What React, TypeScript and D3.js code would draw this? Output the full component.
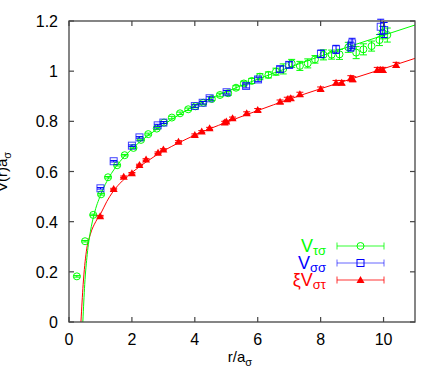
import React from "react";
import * as d3 from "d3";

// ---- data ----
const xTicks = [0, 2, 4, 6, 8, 10];
const yTicks = [0, 0.2, 0.4, 0.6, 0.8, 1, 1.2];
const yTickLabels = ["0", "0.2", "0.4", "0.6", "0.8", "1", "1.2"];

// V_tau_sigma (green circles): r, V, error
const greenR = [0.25, 0.51, 0.77, 1.02, 1.24, 1.53, 1.77, 2.05, 2.29, 2.52, 2.79, 3.02, 3.27, 3.53, 3.79, 4.02, 4.27, 4.54, 4.8, 5.06, 5.31, 5.56, 5.81, 6.07, 6.34, 6.58, 6.81, 7.08, 7.34, 7.59, 7.82, 8.09, 8.35, 8.6, 8.88, 9.13, 9.36, 9.62, 9.87, 9.97, 10.12];
const greenV = [0.182, 0.322, 0.427, 0.509, 0.577, 0.625, 0.665, 0.694, 0.726, 0.749, 0.771, 0.795, 0.815, 0.832, 0.848, 0.86, 0.874, 0.889, 0.905, 0.912, 0.934, 0.951, 0.961, 0.978, 0.985, 0.998, 1.009, 1.031, 1.021, 1.031, 1.047, 1.065, 1.066, 1.067, 1.095, 1.074, 1.087, 1.1, 1.124, 1.154, 1.144];
const greenE = [0.003, 0.003, 0.003, 0.003, 0.003, 0.003, 0.003, 0.003, 0.003, 0.004, 0.004, 0.004, 0.005, 0.005, 0.005, 0.006, 0.006, 0.006, 0.007, 0.008, 0.008, 0.009, 0.01, 0.012, 0.012, 0.014, 0.02, 0.016, 0.018, 0.018, 0.015, 0.02, 0.018, 0.02, 0.02, 0.024, 0.022, 0.02, 0.022, 0.025, 0.028];

// V_sigma_sigma (blue squares)
const blueR = [1.0, 1.42, 2.0, 2.24, 2.82, 3.0, 4.0, 4.25, 4.47, 5.01, 5.63, 6.01, 6.71, 7.0, 8.01, 8.49, 8.96, 9.0, 9.91, 10.02];
const blueV = [0.533, 0.641, 0.703, 0.736, 0.784, 0.795, 0.861, 0.874, 0.892, 0.916, 0.941, 0.967, 1.008, 1.025, 1.069, 1.087, 1.098, 1.111, 1.177, 1.164];
const blueE = [0.003, 0.003, 0.003, 0.003, 0.004, 0.004, 0.005, 0.005, 0.006, 0.007, 0.008, 0.009, 0.012, 0.012, 0.015, 0.016, 0.018, 0.02, 0.03, 0.03];

// xi V_sigma_tau (red triangles)
const redR = [0.99, 1.42, 1.74, 2.0, 2.24, 2.45, 2.83, 3.0, 3.48, 4.0, 4.22, 4.47, 4.95, 5.0, 5.2, 5.65, 6.0, 6.71, 6.94, 7.05, 7.34, 8.0, 8.49, 8.67, 8.96, 9.02, 9.8, 9.9, 9.98, 10.4];
const redV = [0.422, 0.53, 0.579, 0.593, 0.626, 0.648, 0.675, 0.688, 0.719, 0.746, 0.759, 0.772, 0.795, 0.799, 0.812, 0.832, 0.845, 0.878, 0.888, 0.892, 0.908, 0.929, 0.954, 0.954, 0.972, 0.968, 1.005, 1.005, 1.005, 1.025];
const redE = [0.003, 0.003, 0.003, 0.003, 0.003, 0.003, 0.003, 0.003, 0.004, 0.004, 0.004, 0.004, 0.005, 0.005, 0.005, 0.006, 0.006, 0.007, 0.008, 0.008, 0.008, 0.008, 0.009, 0.009, 0.01, 0.01, 0.01, 0.01, 0.01, 0.01];

// fitted curves
const greenFitR = [0.44, 0.5, 0.58, 0.68, 0.8, 1.0, 1.2, 1.5, 2.0, 2.5, 3.0, 3.5, 4.0, 5.0, 6.0, 7.0, 8.0, 9.0, 10.0, 11.0];
const greenFitV = [0.0, 0.15, 0.27, 0.36, 0.43, 0.505, 0.56, 0.62, 0.69, 0.742, 0.786, 0.826, 0.862, 0.918, 0.968, 1.015, 1.06, 1.102, 1.143, 1.184];
const redFitR = [0.38, 0.45, 0.55, 0.68, 0.85, 1.0, 1.2, 1.4, 1.7, 2.0, 2.5, 3.0, 3.5, 4.0, 5.0, 6.0, 7.0, 8.0, 9.0, 10.0, 11.0];
const redFitV = [0.0, 0.15, 0.28, 0.35, 0.4, 0.43, 0.48, 0.52, 0.563, 0.596, 0.642, 0.682, 0.715, 0.745, 0.796, 0.843, 0.888, 0.93, 0.97, 1.01, 1.051];

const GREEN = "#00ff00";
const BLUE = "#0000ff";
const RED = "#ff0000";
const FONT = "'Liberation Sans', Arial, Helvetica, sans-serif";

const W = 436, H = 374;
const L = 69, R = 415, T = 21, B = 322;

export default function App() {
  const x = d3.scaleLinear().domain([0, 11]).range([L, R]);
  const y = d3.scaleLinear().domain([0, 1.2]).range([B, T]);
  const line = d3.line<[number, number]>().x(d => x(d[0])).y(d => y(d[1])).curve(d3.curveMonotoneX);
  const greenFit = line(greenFitR.map((r, i) => [r, greenFitV[i]]) as [number, number][]) || "";
  const redFit = line(redFitR.map((r, i) => [r, redFitV[i]]) as [number, number][]) || "";
  const cap = 3.5;
  const ms = 3.5;

  const errBar = (cx: number, v: number, e: number, color: string, k: string) => {
    const y1 = y(v - e), y2 = y(v + e);
    return (
      <g key={k} stroke={color} strokeWidth={1} fill="none">
        <line x1={cx} x2={cx} y1={y1} y2={y2} />
        <line x1={cx - cap} x2={cx + cap} y1={y1} y2={y1} />
        <line x1={cx - cap} x2={cx + cap} y1={y2} y2={y2} />
      </g>
    );
  };
  const triPath = (cx: number, cy: number) =>
    `M${cx},${cy - ms - 0.5}L${cx + ms + 0.5},${cy + ms - 0.5}L${cx - ms - 0.5},${cy + ms - 0.5}Z`;

  const legendRows = [
    { pre: "", sub: "τσ", color: GREEN, yb: 252, kind: "circle" },
    { pre: "", sub: "σσ", color: BLUE, yb: 269, kind: "square" },
    { pre: "ξ", sub: "στ", color: RED, yb: 286, kind: "tri" },
  ];

  return (
    <svg width={W} height={H} style={{ position: "absolute", left: 0, top: 0 }} fontFamily={FONT}>
      <rect x={0} y={0} width={W} height={H} fill="#fff" />
      <defs>
        <clipPath id="plotclip">
          <rect x={L} y={T} width={R - L} height={B - T} />
        </clipPath>
      </defs>

      {/* fit curves */}
      <g clipPath="url(#plotclip)" fill="none" strokeWidth={1}>
        <path d={redFit} stroke={RED} />
        <path d={greenFit} stroke={GREEN} />
      </g>

      {/* green circles */}
      <g>
        {greenR.map((r, i) => errBar(x(r), greenV[i], greenE[i], GREEN, "ge" + i))}
        {greenR.map((r, i) => (
          <circle key={"g" + i} cx={x(r)} cy={y(greenV[i])} r={ms} fill="none" stroke={GREEN} strokeWidth={1} />
        ))}
      </g>
      {/* blue squares */}
      <g>
        {blueR.map((r, i) => errBar(x(r), blueV[i], blueE[i], BLUE, "be" + i))}
        {blueR.map((r, i) => (
          <rect key={"b" + i} x={x(r) - ms} y={y(blueV[i]) - ms} width={2 * ms} height={2 * ms} fill="none" stroke={BLUE} strokeOpacity={0.75} strokeWidth={1} />
        ))}
      </g>
      {/* red triangles */}
      <g>
        {redR.map((r, i) => errBar(x(r), redV[i], redE[i], RED, "re" + i))}
        {redR.map((r, i) => (
          <path key={"r" + i} d={triPath(x(r), y(redV[i]))} fill={RED} />
        ))}
      </g>

      {/* frame */}
      <rect x={L} y={T} width={R - L} height={B - T} fill="none" stroke="#444" strokeWidth={1.3} />
      {/* ticks */}
      <g stroke="#444" strokeWidth={1.2}>
        {xTicks.map(t => (
          <g key={"xt" + t}>
            <line x1={x(t)} x2={x(t)} y1={B} y2={B - 5} />
            <line x1={x(t)} x2={x(t)} y1={T} y2={T + 5} />
          </g>
        ))}
        {yTicks.map(t => (
          <g key={"yt" + t}>
            <line x1={L} x2={L + 5} y1={y(t)} y2={y(t)} />
            <line x1={R} x2={R - 5} y1={y(t)} y2={y(t)} />
          </g>
        ))}
      </g>
      {/* tick labels */}
      <g fontSize={16} fill="#000">
        {xTicks.map(t => (
          <text key={"xl" + t} x={x(t)} y={345} textAnchor="middle">{String(t)}</text>
        ))}
        {yTicks.map((t, i) => (
          <text key={"yl" + t} x={58} y={y(t) + 6} textAnchor="end">{yTickLabels[i]}</text>
        ))}
      </g>

      {/* axis labels */}
      <text x={240} y={362} textAnchor="middle" fontSize={15} fill="#000">
        r/a<tspan fontSize={11} dy={4}>σ</tspan>
      </text>
      <text transform={`translate(7,172) rotate(-90)`} textAnchor="middle" fontSize={15} fill="#000">
        V(r)a<tspan fontSize={11} dy={4}>σ</tspan>
      </text>

      {/* legend */}
      {legendRows.map((row, i) => {
        const ly = row.yb - 6;
        const x1 = 337, x2 = 384, xm = 360.5;
        return (
          <g key={"lg" + i}>
            <text x={326} y={row.yb} textAnchor="end" fill={row.color} fontSize={18}>
              {row.pre}V<tspan fontSize={13} dy={3}>{row.sub}</tspan>
            </text>
            <g stroke={row.color} strokeWidth={1} strokeOpacity={row.kind === "square" ? 0.6 : 0.8}>
              <line x1={x1} x2={x2} y1={ly} y2={ly} />
              <line x1={x1} x2={x1} y1={ly - 3.5} y2={ly + 3.5} />
              <line x1={x2} x2={x2} y1={ly - 3.5} y2={ly + 3.5} />
            </g>
            {row.kind === "circle" && <circle cx={xm} cy={ly} r={ms} fill="none" stroke={row.color} />}
            {row.kind === "square" && <rect x={xm - ms} y={ly - ms} width={2 * ms} height={2 * ms} fill="none" stroke={row.color} />}
            {row.kind === "tri" && <path d={triPath(xm, ly)} fill={row.color} />}
          </g>
        );
      })}
    </svg>
  );
}
